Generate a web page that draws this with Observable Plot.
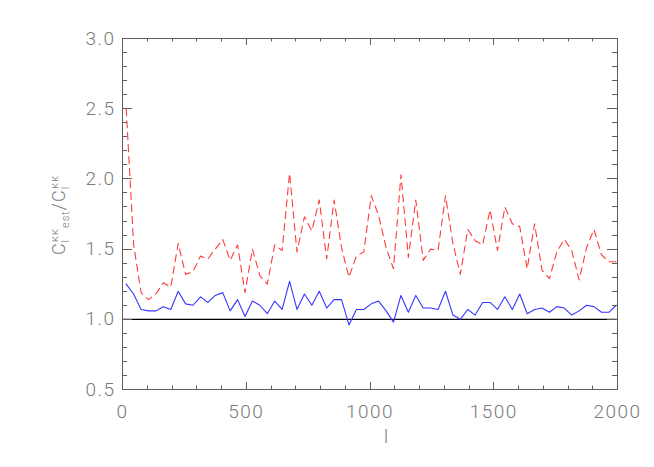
<!DOCTYPE html>
<html><head><meta charset="utf-8">
<script src="https://cdn.jsdelivr.net/npm/d3@7"></script>
<script src="https://cdn.jsdelivr.net/npm/@observablehq/plot@0.6"></script>
<style>body{margin:0;background:#fff} svg{display:block}</style>
</head><body><div id="chart"></div>
<script>
const ell = [15,45,75,105,135,165,195,225,255,285,315,345,375,405,435,465,495,525,555,585,615,645,675,705,735,765,795,825,855,885,915,945,975,1005,1035,1065,1095,1125,1155,1185,1215,1245,1275,1305,1335,1365,1395,1425,1455,1485,1515,1545,1575,1605,1635,1665,1695,1725,1755,1785,1815,1845,1875,1905,1935,1965,1995];
const ratioBlue = [1.25,1.18,1.07,1.06,1.06,1.09,1.07,1.20,1.11,1.10,1.16,1.12,1.17,1.19,1.06,1.14,1.02,1.13,1.10,1.04,1.13,1.07,1.27,1.07,1.18,1.10,1.20,1.08,1.14,1.14,0.96,1.07,1.07,1.11,1.13,1.06,0.98,1.17,1.05,1.17,1.08,1.08,1.07,1.20,1.03,1.00,1.07,1.03,1.12,1.12,1.07,1.16,1.07,1.18,1.04,1.07,1.08,1.05,1.09,1.08,1.03,1.06,1.10,1.09,1.05,1.05,1.10];
const ratioRed = [2.50,1.53,1.19,1.14,1.18,1.26,1.23,1.54,1.32,1.34,1.45,1.43,1.50,1.57,1.42,1.53,1.19,1.50,1.31,1.25,1.53,1.49,2.04,1.48,1.73,1.63,1.85,1.43,1.85,1.51,1.30,1.45,1.48,1.88,1.74,1.51,1.36,2.03,1.44,1.85,1.42,1.50,1.49,1.88,1.54,1.32,1.64,1.56,1.53,1.78,1.49,1.80,1.68,1.66,1.36,1.68,1.35,1.29,1.48,1.57,1.49,1.28,1.51,1.64,1.46,1.41,1.41];
const xMajor = [0,500,1000,1500,2000];
const xMinor = [100,200,300,400,600,700,800,900,1100,1200,1300,1400,1600,1700,1800,1900];
const yMajor = [0.5,1.0,1.5,2.0,2.5,3.0];
const yMinor = [0.6,0.7,0.8,0.9,1.1,1.2,1.3,1.4,1.6,1.7,1.8,1.9,2.1,2.2,2.3,2.4,2.6,2.7,2.8,2.9];
const refLine = [1.0];
const xTitle = "l";

const data = ell.map((l, i) => ({l, blue: ratioBlue[i], red: ratioRed[i]}));
const gray = "#5e5e5e";
const textGray = "#7a7a7a";
const font = "Roboto, 'Liberation Sans', sans-serif";

const chart = Plot.plot({
  width: 654, height: 467,
  marginLeft: 122, marginRight: 37, marginTop: 38, marginBottom: 78,
  x: {domain: [0, 2000], label: null},
  y: {domain: [0.5, 3.0], label: null},
  style: {fontFamily: font, fontSize: "19px", fontWeight: 300, background: "white"},
  marks: [
    Plot.ruleY(refLine, {stroke: "black", strokeWidth: 1.2}),
    Plot.line(data, {x: "l", y: "red", stroke: "#ff3a3a", strokeWidth: 1.1, strokeDasharray: "7,5"}),
    Plot.line(data, {x: "l", y: "blue", stroke: "#3535ff", strokeWidth: 1.1}),
    Plot.frame({stroke: gray}),
    Plot.axisX({ticks: xMajor, anchor: "bottom", tickSize: 0, tickPadding: 15, fill: textGray, label: null, tickFormat: d3.format("d")}),
    Plot.axisY({ticks: yMajor, anchor: "left", tickSize: 0, tickPadding: 7, fill: textGray, label: null, tickFormat: d3.format(".1f")})
  ]
});
document.getElementById("chart").appendChild(chart);

const svg = d3.select(chart);
svg.selectAll("g[aria-label*='axis tick label']").style("letter-spacing", "1.5px");

// inward ticks on all four sides, positioned with Plot's own scales
const xs = chart.scale("x"), ys = chart.scale("y");
const [x0, x1] = xs.range, [y0, y1] = ys.range; // y0 bottom, y1 top
const tg = svg.append("g").attr("stroke", gray).attr("stroke-width", 1);
function addX(vals, len) {
  for (const v of vals) {
    const px = Math.round(xs.apply(v)) + 0.5;
    tg.append("line").attr("x1", px).attr("x2", px).attr("y1", y0).attr("y2", y0 - len);
    tg.append("line").attr("x1", px).attr("x2", px).attr("y1", y1).attr("y2", y1 + len);
  }
}
function addY(vals, len) {
  for (const v of vals) {
    const py = Math.round(ys.apply(v)) + 0.5;
    tg.append("line").attr("x1", x0).attr("x2", x0 + len).attr("y1", py).attr("y2", py);
    tg.append("line").attr("x1", x1).attr("x2", x1 - len).attr("y1", py).attr("y2", py);
  }
}
addX(xMajor, 7); addX(xMinor, 3.5);
addY(yMajor, 10); addY(yMinor, 5);

const t = svg.append("text")
  .attr("transform", "translate(65,215) rotate(-90)")
  .attr("text-anchor", "middle")
  .attr("fill", textGray)
  .style("font-family", font)
  .style("font-weight", 300)
  .style("font-size", "18px")
  .style("letter-spacing", "1px");
t.append("tspan").text("C");
t.append("tspan").attr("font-size", "11px").attr("dy", "4").text("l");
t.append("tspan").attr("font-size", "11px").attr("dx", "-3").attr("dy", "-11").text("κκ");
t.append("tspan").attr("font-size", "11px").attr("dy", "11").text("est");
t.append("tspan").attr("dy", "-4").text("/C");
t.append("tspan").attr("font-size", "11px").attr("dy", "4").text("l");
t.append("tspan").attr("font-size", "11px").attr("dx", "-3").attr("dy", "-11").text("κκ");

svg.append("text")
  .attr("x", 386).attr("y", 443)
  .attr("text-anchor", "middle")
  .attr("fill", textGray)
  .style("font-family", font)
  .style("font-weight", 300)
  .style("font-size", "18px")
  .text(xTitle);
</script>
</body></html>
